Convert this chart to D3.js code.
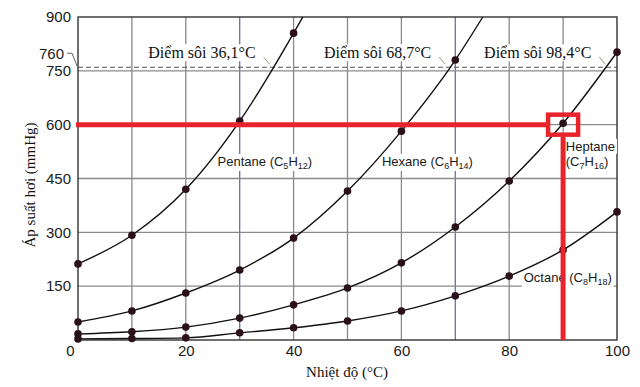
<!DOCTYPE html>
<html>
<head>
<meta charset="utf-8">
<script src="https://cdn.jsdelivr.net/npm/d3@7"></script>
<style>
  body { margin: 0; background: #fff; }
  .tick text { font-family: "Liberation Sans", Arial, sans-serif; font-size: 15px; fill: #1a1a1a; }
  .serif { font-family: "Liberation Serif", "Times New Roman", serif; font-size: 15px; fill: #111; }
  .boil { font-size: 16px; }
  .curve-label { font-family: "Liberation Sans", Arial, sans-serif; font-size: 13px; fill: #1a1a1a; }
</style>
</head>
<body>
<div id="chart-area"></div>
<script>
// Data
const temps = [0, 10, 20, 30, 40, 50, 60, 70, 80, 90, 100];
const pentane = [212, 292, 420, 610, 855];
const hexane = [50, 81, 131, 195, 284, 415, 582, 780];
const heptane = [17, 23, 36, 61, 98, 145, 215, 315, 443, 604, 802];
const octane = [3, 4, 6, 20, 34, 53, 81, 123, 178, 251, 357];
// temperature where a curve leaves the top of the chart (900 mmHg)
const pentaneTop = 41.7;
const hexaneTop = 75.1;

const boilTemps = [36.1, 68.7, 98.4];
const boilLabels = ["Điểm sôi 36,1°C", "Điểm sôi 68,7°C", "Điểm sôi 98,4°C"];
const atmPressure = 760;

const yTicks = [150, 300, 450, 600, 750, 900];
const xTicks = [0, 20, 40, 60, 80, 100];
const xGrid = [10, 20, 30, 40, 50, 60, 70, 80, 90];
const yGrid = [150, 300, 450, 600, 750];

const markTemp = 90;
const markPressure = 600;

// Dimensions
const W = 640, H = 387;
const margin = { left: 78, right: 23, top: 17, bottom: 47 };
const width = W - margin.left - margin.right;
const height = H - margin.top - margin.bottom;

const svg = d3.select("#chart-area")
  .append("svg")
    .attr("width", W)
    .attr("height", H);

const chart = svg.append("g")
  .attr("transform", "translate(" + margin.left + "," + margin.top + ")");

const x = d3.scaleLinear().domain([0, 100]).range([0, width]);
const y = d3.scaleLinear().domain([0, 900]).range([height, 0]);

// Grid
chart.selectAll(".vgrid").data(xGrid).enter().append("line")
  .attr("x1", d => x(d)).attr("x2", d => x(d))
  .attr("y1", 0).attr("y2", height)
  .attr("stroke", d => (d === 30 || d === 70) ? "#6e6ea6" : "#8a8a8a")
  .attr("stroke-width", 1.3);

chart.selectAll(".hgrid").data(yGrid).enter().append("line")
  .attr("x1", 0).attr("x2", width)
  .attr("y1", d => y(d)).attr("y2", d => y(d))
  .attr("stroke", "#8a8a8a")
  .attr("stroke-width", 1.3);

// 760 dashed line
chart.append("line")
  .attr("x1", 0).attr("x2", width)
  .attr("y1", y(atmPressure)).attr("y2", y(atmPressure))
  .attr("stroke", "#555")
  .attr("stroke-dasharray", "5,3")
  .attr("stroke-width", 1);

// Frame
chart.append("rect")
  .attr("width", width).attr("height", height)
  .attr("fill", "none")
  .attr("stroke", "#333")
  .attr("stroke-width", 1.4);

// Axes (labels only)
const yAxis = chart.append("g")
  .call(d3.axisLeft(y).tickValues(yTicks).tickSize(0).tickPadding(7));
yAxis.select(".domain").remove();

const xAxis = chart.append("g")
  .attr("transform", "translate(0," + height + ")")
  .call(d3.axisBottom(x).tickValues(xTicks).tickSize(0).tickPadding(5));
xAxis.select(".domain").remove();
xAxis.selectAll(".tick").filter(d => d === 0).select("text").attr("dx", -8);

// 760 label with leader
chart.append("text")
  .attr("x", -14).attr("y", y(atmPressure) - 13)
  .attr("text-anchor", "end")
  .style("font-family", "Liberation Sans, Arial, sans-serif")
  .style("font-size", "15px")
  .attr("fill", "#1a1a1a")
  .attr("dy", "0.35em")
  .text(atmPressure);
chart.append("path")
  .attr("d", "M" + (-11) + "," + (y(atmPressure) - 14) + "H" + (-6) + "L0," + (y(atmPressure) + 1))
  .attr("fill", "none").attr("stroke", "#666").attr("stroke-width", 1);

// Axis titles
svg.append("text")
  .attr("class", "serif")
  .attr("transform", "translate(35," + (margin.top + 168) + ") rotate(-90)")
  .attr("text-anchor", "middle")
  .text("Áp suất hơi (mmHg)");

svg.append("text")
  .attr("class", "serif")
  .attr("x", 347).attr("y", 377)
  .attr("text-anchor", "middle")
  .text("Nhiệt độ (°C)");

const labelLayer = chart.append("g");

// Boiling point labels
boilTemps.forEach((t, i) => {
  const txt = labelLayer.append("text")
    .attr("class", "serif boil")
    .attr("x", x(t) - 17)
    .attr("y", y(atmPressure) - 9)
    .attr("text-anchor", "end")
    .text(boilLabels[i]);
  const b = txt.node().getBBox();
  labelLayer.insert("rect", "text")
    .attr("x", b.x - 2).attr("y", b.y)
    .attr("width", b.width + 4).attr("height", b.height)
    .attr("fill", "#fff");
  // small leader to the crossing point
  chart.append("line")
    .attr("x1", x(t) - 9).attr("y1", y(atmPressure) - 10)
    .attr("x2", x(t) - 3).attr("y2", y(atmPressure) - 3)
    .attr("stroke", "#8a9a7a").attr("stroke-width", 1);
});

// Curve labels with subscripts
function curveLabel(lines, px, py) {
  lines.forEach((parts, li) => {
    const t = labelLayer.append("text")
      .attr("class", "curve-label")
      .attr("x", px).attr("y", py + li * 15);
    parts.forEach(p => {
      const ts = t.append("tspan").text(p.s);
      if (p.sub) ts.attr("font-size", "9px").attr("dy", 3);
      else if (p.back) ts.attr("dy", -3);
    });
    const b = t.node().getBBox();
    labelLayer.insert("rect", "text")
      .attr("x", b.x - 2).attr("y", b.y)
      .attr("width", b.width + 4).attr("height", b.height)
      .attr("fill", "#fff");
  });
}

curveLabel([[{s: "Pentane (C"}, {s: "5", sub: true}, {s: "H", back: true}, {s: "12", sub: true}, {s: ")", back: true}]],
  x(25.9), y(485));
curveLabel([[{s: "Hexane (C"}, {s: "6", sub: true}, {s: "H", back: true}, {s: "14", sub: true}, {s: ")", back: true}]],
  x(56.4), y(485));
curveLabel([[{s: "Heptane"}],
            [{s: "(C"}, {s: "7", sub: true}, {s: "H", back: true}, {s: "16", sub: true}, {s: ")", back: true}]],
  x(90.5), y(527));
curveLabel([[{s: "Octane (C"}, {s: "8", sub: true}, {s: "H", back: true}, {s: "18", sub: true}, {s: ")", back: true}]],
  x(82.7), y(161));

// Curves
const line = d3.line()
  .x(d => x(d[0]))
  .y(d => y(d[1]))
  .curve(d3.curveMonotoneX);

const series = [
  { vals: pentane, top: pentaneTop },
  { vals: hexane, top: hexaneTop },
  { vals: heptane, top: null },
  { vals: octane, top: null }
];

series.forEach(s => {
  const pts = s.vals.map((v, i) => [temps[i], v]);
  const path = s.top !== null ? pts.concat([[s.top, 900]]) : pts;
  chart.append("path")
    .attr("d", line(path))
    .attr("fill", "none")
    .attr("stroke", "#111")
    .attr("stroke-width", 1.4);
  chart.selectAll(null).data(pts).enter().append("circle")
    .attr("cx", d => x(d[0]))
    .attr("cy", d => y(d[1]))
    .attr("r", 3.8)
    .attr("fill", "#2a1018");
});

// Red marker
const red = "#e8232b";
chart.append("line")
  .attr("x1", -2).attr("x2", x(markTemp) - 17)
  .attr("y1", y(markPressure)).attr("y2", y(markPressure))
  .attr("stroke", red).attr("stroke-width", 5);
chart.append("line")
  .attr("x1", x(markTemp)).attr("x2", x(markTemp))
  .attr("y1", y(markPressure) + 12).attr("y2", height)
  .attr("stroke", red).attr("stroke-width", 5);
chart.append("rect")
  .attr("x", x(markTemp) - 15).attr("y", y(markPressure) - 10)
  .attr("width", 30).attr("height", 20)
  .attr("fill", "none")
  .attr("stroke", red).attr("stroke-width", 4.5);
</script>
</body>
</html>
